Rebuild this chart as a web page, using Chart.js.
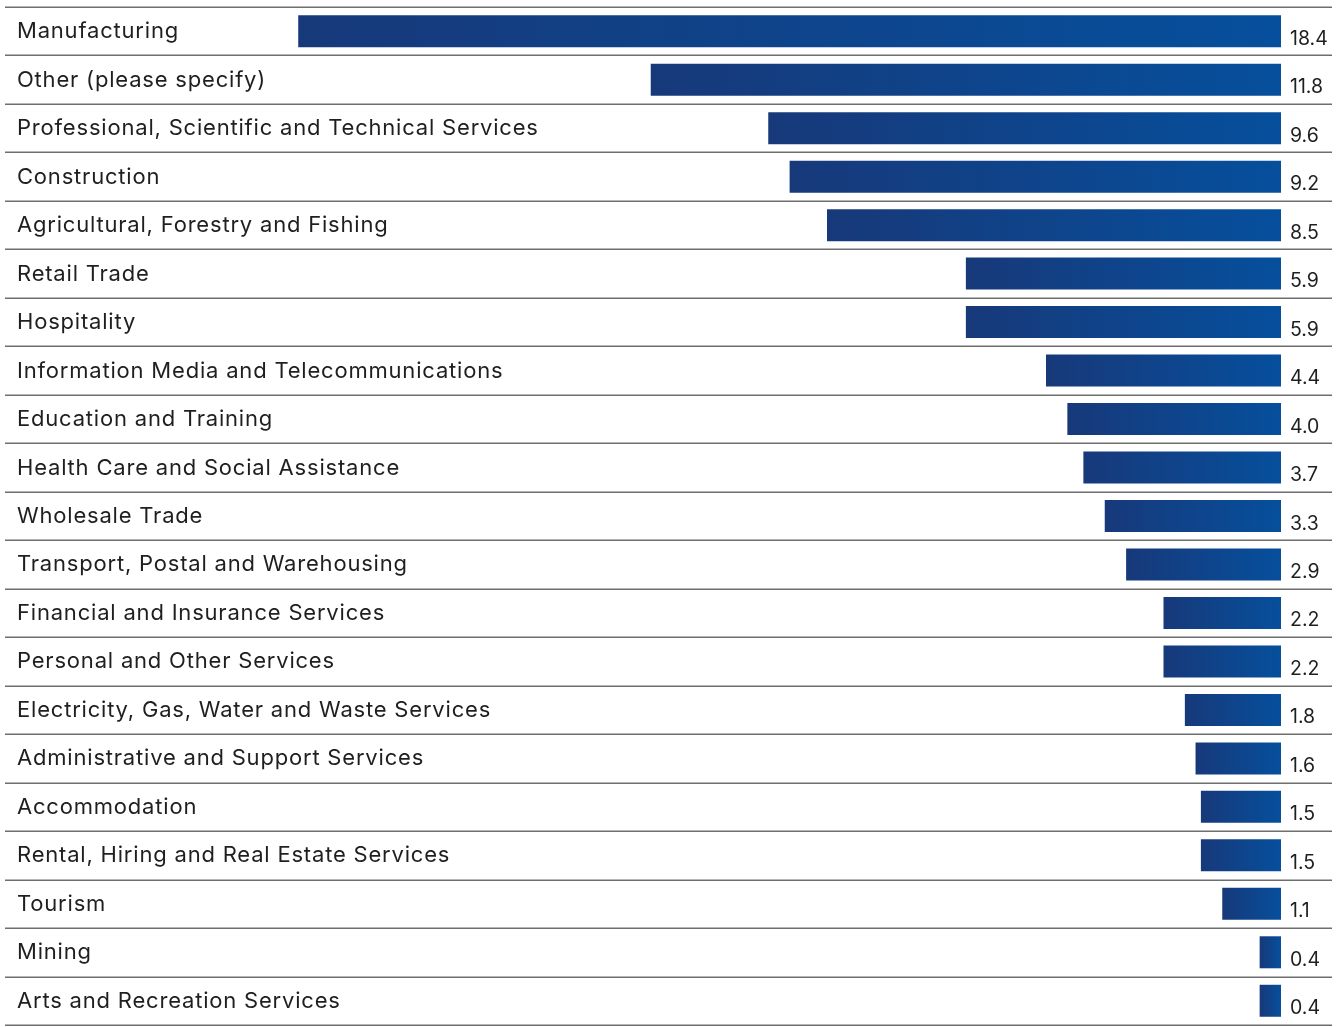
<!DOCTYPE html>
<html>
<head>
<meta charset="utf-8">
<script src="https://cdn.jsdelivr.net/npm/chart.js@4"></script>
<style>
  body { margin: 0; background: #fff; }
  #wrap { width: 1343px; height: 1027px; position: relative; }
</style>
</head>
<body>
<div id="wrap"><canvas id="myChart"></canvas></div>
<script>
const industries = [
  'Manufacturing',
  'Other (please specify)',
  'Professional, Scientific and Technical Services',
  'Construction',
  'Agricultural, Forestry and Fishing',
  'Retail Trade',
  'Hospitality',
  'Information Media and Telecommunications',
  'Education and Training',
  'Health Care and Social Assistance',
  'Wholesale Trade',
  'Transport, Postal and Warehousing',
  'Financial and Insurance Services',
  'Personal and Other Services',
  'Electricity, Gas, Water and Waste Services',
  'Administrative and Support Services',
  'Accommodation',
  'Rental, Hiring and Real Estate Services',
  'Tourism',
  'Mining',
  'Arts and Recreation Services',
];

const shares = [18.4, 11.8, 9.6, 9.2, 8.5, 5.9, 5.9, 4.4, 4.0, 3.7, 3.3, 2.9, 2.2, 2.2, 1.8, 1.6, 1.5, 1.5, 1.1, 0.4, 0.4];

const FONT = 'Inter, "Open Sans", sans-serif';

// each bar fades from navy on the left to a brighter blue at the axis
function barGradient(context) {
  const chart = context.chart;
  const x = chart.scales.x;
  if (!chart.chartArea || !x || context.parsed === undefined) return '#0d4690';
  const left = x.getPixelForValue(context.parsed.x);
  const right = x.getPixelForValue(0);
  const g = chart.ctx.createLinearGradient(left, 0, right, 0);
  g.addColorStop(0, '#17397a');
  g.addColorStop(1, '#064f9c');
  return g;
}

// row rules, category names and value labels
const rowDecor = {
  id: 'rowDecor',
  afterDatasetsDraw(chart) {
    const ctx = chart.ctx;
    const y = chart.scales.y;
    const x = chart.scales.x;
    const step = y.getPixelForValue(1) - y.getPixelForValue(0);
    ctx.save();
    ctx.strokeStyle = '#6e6e6e';
    ctx.lineWidth = 1.5;
    for (let i = 0; i <= industries.length; i++) {
      const yy = Math.round(y.getPixelForValue(0) - step / 2 + i * step) + 0.25;
      ctx.beginPath();
      ctx.moveTo(5, yy);
      ctx.lineTo(1332, yy);
      ctx.stroke();
    }
    ctx.fillStyle = '#1f1f1f';
    ctx.textBaseline = 'alphabetic';
    ctx.textAlign = 'left';
    industries.forEach((name, i) => {
      const cy = y.getPixelForValue(i);
      ctx.font = '22px ' + FONT;
      ctx.letterSpacing = '0.8px';
      ctx.fillText(name, 17, cy + 7);
      ctx.font = '19.5px ' + FONT;
      ctx.letterSpacing = '0px';
      ctx.fillText(shares[i].toFixed(1), x.getPixelForValue(0) + 9, cy + 13.5);
    });
    ctx.restore();
  }
};

const data = {
  labels: industries,
  datasets: [{
    data: shares,
    backgroundColor: barGradient,
    borderWidth: 0,
    barPercentage: 1,
    categoryPercentage: 0.66,
  }]
};

const config = {
  type: 'bar',
  data,
  options: {
    indexAxis: 'y',
    responsive: true,
    maintainAspectRatio: false,
    animation: false,
    layout: { padding: { top: 7, bottom: 2, left: 5, right: 62 } },
    scales: {
      x: { display: false, reverse: true, min: 0, max: 23.89 },
      y: { display: false }
    },
    plugins: {
      legend: { display: false },
      tooltip: { enabled: false }
    }
  },
  plugins: [rowDecor]
};

var myChart = new Chart(document.getElementById('myChart'), config);
</script>
</body>
</html>
